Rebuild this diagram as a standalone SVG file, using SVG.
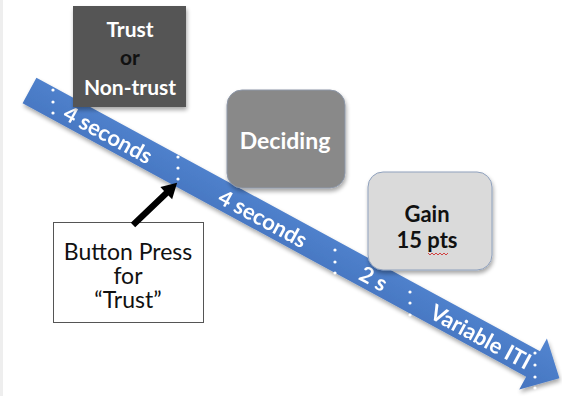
<svg xmlns="http://www.w3.org/2000/svg" width="562" height="396" viewBox="0 0 562 396">
  <defs>
    <linearGradient id="bandFill" x1="0" y1="0" x2="0" y2="1">
      <stop offset="0" stop-color="#5385d0"/>
      <stop offset="1" stop-color="#4474bf"/>
    </linearGradient>
    <filter id="softShadow" x="-10%" y="-10%" width="130%" height="130%">
      <feGaussianBlur in="SourceAlpha" stdDeviation="2"/>
      <feOffset dx="1" dy="3" result="b"/>
      <feComponentTransfer><feFuncA type="linear" slope="0.35"/></feComponentTransfer>
      <feMerge><feMergeNode/><feMergeNode in="SourceGraphic"/></feMerge>
    </filter>
    <style>
      .lbl { font-family: Lato, "Open Sans", "Liberation Sans", sans-serif; font-weight: bold; text-anchor: middle; }
      .band-lbl { font-family: Lato, "Open Sans", "Liberation Sans", sans-serif; font-weight: bold; font-size: 22px; fill: #ffffff; text-anchor: middle; }
      .note { font-family: Lato, "Open Sans", "Liberation Sans", sans-serif; font-size: 23px; fill: #111111; text-anchor: middle; }
      .dot { fill: #ffffff; }
    </style>
  </defs>

  <rect x="0" y="0" width="562" height="396" fill="#ffffff"/>
  <rect x="0" y="0" width="3" height="396" fill="#eeeeee"/>

  <!-- timeline band with arrowhead -->
  <g id="timeline" filter="url(#softShadow)">
    <g transform="translate(29.5,90.5) rotate(28.5)">
      <polygon points="0,-14.5 573,-14.5 573,-29 603,0 573,29 573,14.5 0,14.5" fill="url(#bandFill)"/>
      <text class="band-lbl" x="90" y="9">4 seconds</text>
      <text class="band-lbl" x="266" y="9">4 seconds</text>
      <text class="band-lbl" x="392" y="9">2 s</text>
      <text class="band-lbl" x="514" y="9">Variable ITI</text>
    </g>
  </g>

  <!-- dotted separators on the timeline -->
  <g id="separators">
    <circle class="dot" cx="53" cy="90" r="1.6"/>
    <circle class="dot" cx="53" cy="102" r="1.6"/>
    <circle class="dot" cx="53" cy="113" r="1.6"/>
    <circle class="dot" cx="178" cy="157" r="1.6"/>
    <circle class="dot" cx="178" cy="168" r="1.6"/>
    <circle class="dot" cx="178" cy="179" r="1.6"/>
    <circle class="dot" cx="335" cy="250" r="1.6"/>
    <circle class="dot" cx="335" cy="262" r="1.6"/>
    <circle class="dot" cx="335" cy="273" r="1.6"/>
    <circle class="dot" cx="410" cy="292" r="1.6"/>
    <circle class="dot" cx="410" cy="303" r="1.6"/>
    <circle class="dot" cx="410" cy="315" r="1.6"/>
    <circle class="dot" cx="535" cy="353" r="1.6"/>
    <circle class="dot" cx="535" cy="365" r="1.6"/>
    <circle class="dot" cx="535" cy="377" r="1.6"/>
    <circle class="dot" cx="535" cy="388" r="1.6"/>
  </g>

  <!-- choice screen -->
  <g id="trust-choice">
    <rect x="73" y="6" width="113" height="101" fill="#545454" filter="url(#softShadow)"/>
    <text class="lbl" x="130" y="37" font-size="21" fill="#ffffff">Trust</text>
    <text class="lbl" x="130" y="65" font-size="21" fill="#111111" font-weight="normal">or</text>
    <text class="lbl" x="130" y="95" font-size="21" fill="#ffffff">Non-trust</text>
  </g>

  <!-- deciding screen -->
  <g id="deciding">
    <rect x="227" y="90" width="118" height="98" rx="15" fill="#898989" stroke="#8d97a8" stroke-width="1" filter="url(#softShadow)"/>
    <text class="lbl" x="285" y="149" font-size="23" fill="#ffffff">Deciding</text>
  </g>

  <!-- outcome screen -->
  <g id="gain">
    <rect x="368" y="172" width="124" height="98" rx="15" fill="#dadada" stroke="#8fa1bd" stroke-width="1" filter="url(#softShadow)"/>
    <text class="lbl" x="427" y="222" font-size="22" fill="#111111">Gain</text>
    <text class="lbl" x="427" y="248" font-size="22" fill="#111111">15 pts</text>
    <path d="M428,253 l2,2 l2,-2 l2,2 l2,-2 l2,2 l2,-2 l2,2 l2,-2 l2,2 l2,-2" fill="none" stroke="#d03030" stroke-width="0.9"/>
  </g>

  <!-- response note -->
  <g id="button-press">
    <rect x="53.5" y="222.5" width="150" height="100" fill="#ffffff" stroke="#555555" stroke-width="1"/>
    <text class="note" x="128" y="260">Button Press</text>
    <text class="note" x="128" y="284">for</text>
    <text class="note" x="128" y="308">“Trust”</text>
  </g>

  <g id="connectors">
    <g transform="translate(133,225) rotate(-43.7)">
      <polygon points="0,-3.2 46,-3.2 46,-8.5 61,0 46,8.5 46,3.2 0,3.2" fill="#000000"/>
    </g>
  </g>
</svg>
